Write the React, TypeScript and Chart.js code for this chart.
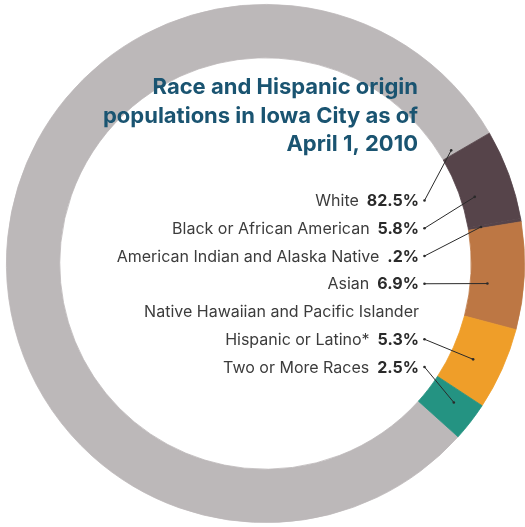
import React, { useEffect, useRef } from "react";
import { Chart, registerables } from "chart.js";

Chart.register(...registerables);

const categories = [
  "White",
  "Black or African American",
  "American Indian and Alaska Native",
  "Asian",
  "Native Hawaiian and Pacific Islander",
  "Hispanic or Latino*",
  "Two or More Races",
];
const values = [82.5, 5.8, 0.2, 6.9, 0, 5.3, 2.5];
const valueLabels = ["82.5%", "5.8%", ".2%", "6.9%", "", "5.3%", "2.5%"];
const titleLines = ["Race and Hispanic origin", "populations in Iowa City as of", "April 1, 2010"];

const colors = ["#bcb8b9", "#56444a", "#56444a", "#bd7744", "#bd7744", "#ef9e29", "#249382"];
// leader anchor: [fraction along arc, fraction of ring thickness]
const anchors: ([number, number] | null)[] = [
  [0.996, 0.22],
  [0.62, 0.26],
  [0.5, 0.24],
  [0.6, 0.32],
  null,
  [0.54, 0.43],
  [0.36, 0.53],
];

const labelPlugin = {
  id: "labelsPlugin",
  afterDraw(chart: any) {
    const ctx = chart.ctx as CanvasRenderingContext2D;
    const meta = chart.getDatasetMeta(0);
    ctx.save();
    ctx.fillStyle = "#1a5471";
    ctx.font = "bold 22px Inter";
    ctx.textAlign = "right";
    ctx.textBaseline = "alphabetic";
    titleLines.forEach((t, i) => ctx.fillText(t, 418, 94 + i * 28.5));

    const rightX = 419;
    const baseY = 206;
    const step = 27.75;
    categories.forEach((cat, i) => {
      const y = baseY + i * step;
      ctx.textAlign = "right";
      let vw = 0;
      if (valueLabels[i]) {
        ctx.font = "bold 16px Inter";
        ctx.fillStyle = "#2a2a2a";
        ctx.fillText(valueLabels[i], rightX, y);
        vw = ctx.measureText(valueLabels[i]).width + 8;
      }
      ctx.font = "16px Inter";
      ctx.fillStyle = "#3c3c3c";
      ctx.fillText(cat, rightX - vw, y);

      const a = anchors[i];
      const el = meta.data[i];
      if (a && el) {
        const p = el.getProps(["x", "y", "startAngle", "endAngle", "innerRadius", "outerRadius"], true);
        const ang = p.startAngle + (p.endAngle - p.startAngle) * a[0];
        const r = p.innerRadius + (p.outerRadius - p.innerRadius) * a[1];
        const ex = p.x + Math.cos(ang) * r;
        const ey = p.y + Math.sin(ang) * r;
        const sx = 424.5;
        const sy = y - 5.5;
        ctx.strokeStyle = "#2a2a2a";
        ctx.lineWidth = 1;
        ctx.beginPath();
        ctx.moveTo(sx, sy);
        ctx.lineTo(ex, ey);
        ctx.stroke();
        ctx.fillStyle = "#2a2a2a";
        [[sx, sy], [ex, ey]].forEach(([px, py]) => {
          ctx.beginPath();
          ctx.arc(px, py, 1.3, 0, Math.PI * 2);
          ctx.fill();
        });
      }
    });
    ctx.restore();
  },
};

export default function App() {
  const ref = useRef<HTMLCanvasElement>(null);
  useEffect(() => {
    document.body.style.margin = "0";
    const chart = new Chart(ref.current!, {
      type: "doughnut",
      data: {
        labels: categories,
        datasets: [
          {
            data: values,
            backgroundColor: colors,
            borderColor: colors,
            borderWidth: 0.8,
          },
        ],
      },
      options: {
        responsive: false,
        animation: false,
        rotation: 132,
        cutout: "79.4%",
        layout: { padding: { left: 6, right: 0, top: 4, bottom: 4 } },
        plugins: { legend: { display: false }, tooltip: { enabled: false } },
      },
      plugins: [labelPlugin],
    });
    return () => chart.destroy();
  }, []);
  return <canvas ref={ref} width={525} height={527} style={{ display: "block" }} />;
}
